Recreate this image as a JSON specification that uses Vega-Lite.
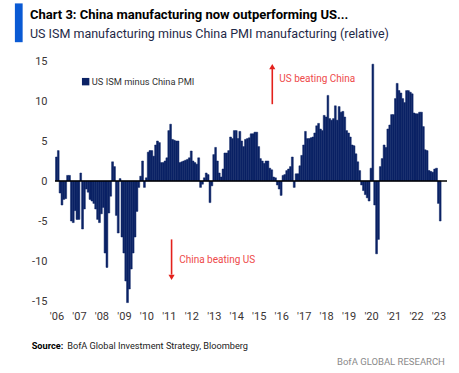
{
  "$schema": "https://vega.github.io/schema/vega-lite/v6.json",
  "width": 392,
  "height": 240,
  "autosize": {"type": "none"},
  "padding": {"left": 55, "top": 61, "right": 12, "bottom": 72},
  "background": "white",
  "config": {
    "view": {"stroke": null},
    "font": "Roboto, sans-serif",
    "axis": {"labelOverlap": false}
  },
  "data": {
    "values": [
      {"date": "2006-01-01", "value": 3.0}, {"date": "2006-02-01", "value": 3.8}, {"date": "2006-03-01", "value": -1.5}, {"date": "2006-04-01", "value": -3.0}, {"date": "2006-05-01", "value": -2.3}, {"date": "2006-06-01", "value": -2.2}, {"date": "2006-07-01", "value": 0.7}, {"date": "2006-08-01", "value": 0.7}, {"date": "2006-09-01", "value": -5.0}, {"date": "2006-10-01", "value": -5.2}, {"date": "2006-11-01", "value": -3.7}, {"date": "2006-12-01", "value": -4.8},
      {"date": "2007-01-01", "value": -4.8}, {"date": "2007-02-01", "value": 1.0}, {"date": "2007-03-01", "value": -6.0}, {"date": "2007-04-01", "value": -3.5}, {"date": "2007-05-01", "value": -1.0}, {"date": "2007-06-01", "value": -1.4}, {"date": "2007-07-01", "value": -2.3}, {"date": "2007-08-01", "value": -2.5}, {"date": "2007-09-01", "value": -2.8}, {"date": "2007-10-01", "value": -3.5}, {"date": "2007-11-01", "value": -4.8}, {"date": "2007-12-01", "value": -5.2},
      {"date": "2008-01-01", "value": -4.1}, {"date": "2008-02-01", "value": -3.3}, {"date": "2008-03-01", "value": -9.0}, {"date": "2008-04-01", "value": -10.8}, {"date": "2008-05-01", "value": -4.0}, {"date": "2008-06-01", "value": -1.9}, {"date": "2008-07-01", "value": 2.4}, {"date": "2008-08-01", "value": 1.8}, {"date": "2008-09-01", "value": -4.3}, {"date": "2008-10-01", "value": -6.5}, {"date": "2008-11-01", "value": 0.3}, {"date": "2008-12-01", "value": -7.0},
      {"date": "2009-01-01", "value": -9.0}, {"date": "2009-02-01", "value": -12.5}, {"date": "2009-03-01", "value": -15.2}, {"date": "2009-04-01", "value": -13.5}, {"date": "2009-05-01", "value": -11.0}, {"date": "2009-06-01", "value": -9.0}, {"date": "2009-07-01", "value": -7.0}, {"date": "2009-08-01", "value": -3.8}, {"date": "2009-09-01", "value": -0.8}, {"date": "2009-10-01", "value": 0.6}, {"date": "2009-11-01", "value": 2.5}, {"date": "2009-12-01", "value": -0.8},
      {"date": "2010-01-01", "value": 0.4}, {"date": "2010-02-01", "value": 3.6}, {"date": "2010-03-01", "value": 3.8}, {"date": "2010-04-01", "value": 3.8}, {"date": "2010-05-01", "value": 3.1}, {"date": "2010-06-01", "value": 4.5}, {"date": "2010-07-01", "value": 5.0}, {"date": "2010-08-01", "value": 4.8}, {"date": "2010-09-01", "value": 2.3}, {"date": "2010-10-01", "value": 2.3}, {"date": "2010-11-01", "value": 2.5}, {"date": "2010-12-01", "value": 2.9},
      {"date": "2011-01-01", "value": 6.3}, {"date": "2011-02-01", "value": 7.1}, {"date": "2011-03-01", "value": 5.2}, {"date": "2011-04-01", "value": 5.1}, {"date": "2011-05-01", "value": 5.0}, {"date": "2011-06-01", "value": 5.0}, {"date": "2011-07-01", "value": 2.3}, {"date": "2011-08-01", "value": 2.4}, {"date": "2011-09-01", "value": 2.5}, {"date": "2011-10-01", "value": 2.6}, {"date": "2011-11-01", "value": 2.7}, {"date": "2011-12-01", "value": 2.9},
      {"date": "2012-01-01", "value": 3.75}, {"date": "2012-02-01", "value": 2.5}, {"date": "2012-03-01", "value": 2.3}, {"date": "2012-04-01", "value": 2.1}, {"date": "2012-05-01", "value": 2.9}, {"date": "2012-06-01", "value": -0.8}, {"date": "2012-07-01", "value": -0.4}, {"date": "2012-08-01", "value": 0.4}, {"date": "2012-09-01", "value": 1.0}, {"date": "2012-10-01", "value": 0.8}, {"date": "2012-11-01", "value": -2.7}, {"date": "2012-12-01", "value": -0.6},
      {"date": "2013-01-01", "value": 3.3}, {"date": "2013-02-01", "value": 4.2}, {"date": "2013-03-01", "value": 2.5}, {"date": "2013-04-01", "value": 1.0}, {"date": "2013-05-01", "value": 0.5}, {"date": "2013-06-01", "value": 1.5}, {"date": "2013-07-01", "value": 3.5}, {"date": "2013-08-01", "value": 3.5}, {"date": "2013-09-01", "value": 3.8}, {"date": "2013-10-01", "value": 5.5}, {"date": "2013-11-01", "value": 5.3}, {"date": "2013-12-01", "value": 6.3},
      {"date": "2014-01-01", "value": 6.3}, {"date": "2014-02-01", "value": 5.3}, {"date": "2014-03-01", "value": 6.2}, {"date": "2014-04-01", "value": 5.0}, {"date": "2014-05-01", "value": 4.3}, {"date": "2014-06-01", "value": 5.2}, {"date": "2014-07-01", "value": 5.3}, {"date": "2014-08-01", "value": 5.4}, {"date": "2014-09-01", "value": 5.9}, {"date": "2014-10-01", "value": 5.9}, {"date": "2014-11-01", "value": 6.1}, {"date": "2014-12-01", "value": 6.1},
      {"date": "2015-01-01", "value": 4.3}, {"date": "2015-02-01", "value": 2.8}, {"date": "2015-03-01", "value": 2.5}, {"date": "2015-04-01", "value": 2.2}, {"date": "2015-05-01", "value": 2.5}, {"date": "2015-06-01", "value": 2.5}, {"date": "2015-07-01", "value": 1.6}, {"date": "2015-08-01", "value": 1.4}, {"date": "2015-09-01", "value": 0.5}, {"date": "2015-10-01", "value": 0.4}, {"date": "2015-11-01", "value": -0.5}, {"date": "2015-12-01", "value": -1.0},
      {"date": "2016-01-01", "value": -1.8}, {"date": "2016-02-01", "value": 0.7}, {"date": "2016-03-01", "value": 0.8}, {"date": "2016-04-01", "value": 1.3}, {"date": "2016-05-01", "value": 1.5}, {"date": "2016-06-01", "value": 1.8}, {"date": "2016-07-01", "value": 3.0}, {"date": "2016-08-01", "value": -0.8}, {"date": "2016-09-01", "value": 0.9}, {"date": "2016-10-01", "value": 0.9}, {"date": "2016-11-01", "value": 1.9}, {"date": "2016-12-01", "value": 3.2},
      {"date": "2017-01-01", "value": 4.5}, {"date": "2017-02-01", "value": 6.2}, {"date": "2017-03-01", "value": 5.3}, {"date": "2017-04-01", "value": 5.3}, {"date": "2017-05-01", "value": 5.4}, {"date": "2017-06-01", "value": 5.5}, {"date": "2017-07-01", "value": 6.0}, {"date": "2017-08-01", "value": 6.9}, {"date": "2017-09-01", "value": 7.2}, {"date": "2017-10-01", "value": 6.5}, {"date": "2017-11-01", "value": 6.3}, {"date": "2017-12-01", "value": 8.2},
      {"date": "2018-01-01", "value": 8.0}, {"date": "2018-02-01", "value": 10.7}, {"date": "2018-03-01", "value": 7.8}, {"date": "2018-04-01", "value": 7.6}, {"date": "2018-05-01", "value": 7.8}, {"date": "2018-06-01", "value": 9.4}, {"date": "2018-07-01", "value": 7.6}, {"date": "2018-08-01", "value": 9.3}, {"date": "2018-09-01", "value": 8.6}, {"date": "2018-10-01", "value": 8.7}, {"date": "2018-11-01", "value": 8.0}, {"date": "2018-12-01", "value": 6.3},
      {"date": "2019-01-01", "value": 6.0}, {"date": "2019-02-01", "value": 5.5}, {"date": "2019-03-01", "value": 4.5}, {"date": "2019-04-01", "value": 4.4}, {"date": "2019-05-01", "value": 3.4}, {"date": "2019-06-01", "value": 2.4}, {"date": "2019-07-01", "value": 1.3}, {"date": "2019-08-01", "value": -0.5}, {"date": "2019-09-01", "value": -1.2}, {"date": "2019-10-01", "value": -1.7}, {"date": "2019-11-01", "value": -2.1}, {"date": "2019-12-01", "value": -2.5},
      {"date": "2020-01-01", "value": 1.6}, {"date": "2020-02-01", "value": 14.6}, {"date": "2020-03-01", "value": -3.0}, {"date": "2020-04-01", "value": -9.1}, {"date": "2020-05-01", "value": -7.3}, {"date": "2020-06-01", "value": 1.8}, {"date": "2020-07-01", "value": 2.8}, {"date": "2020-08-01", "value": 4.5}, {"date": "2020-09-01", "value": 4.2}, {"date": "2020-10-01", "value": 6.5}, {"date": "2020-11-01", "value": 7.0}, {"date": "2020-12-01", "value": 8.3},
      {"date": "2021-01-01", "value": 8.3}, {"date": "2021-02-01", "value": 10.3}, {"date": "2021-03-01", "value": 12.2}, {"date": "2021-04-01", "value": 11.3}, {"date": "2021-05-01", "value": 11.0}, {"date": "2021-06-01", "value": 10.3}, {"date": "2021-07-01", "value": 9.8}, {"date": "2021-08-01", "value": 11.3}, {"date": "2021-09-01", "value": 11.3}, {"date": "2021-10-01", "value": 11.1}, {"date": "2021-11-01", "value": 10.9}, {"date": "2021-12-01", "value": 8.5},
      {"date": "2022-01-01", "value": 8.4}, {"date": "2022-02-01", "value": 8.4}, {"date": "2022-03-01", "value": 8.6}, {"date": "2022-04-01", "value": 8.6}, {"date": "2022-05-01", "value": 6.8}, {"date": "2022-06-01", "value": 3.9}, {"date": "2022-07-01", "value": 3.8}, {"date": "2022-08-01", "value": 1.3}, {"date": "2022-09-01", "value": 1.2}, {"date": "2022-10-01", "value": 1.1}, {"date": "2022-11-01", "value": 1.5}, {"date": "2022-12-01", "value": 1.6},
      {"date": "2023-01-01", "value": -2.8}, {"date": "2023-02-01", "value": -5.0}
    ],
    "format": {"parse": {"date": "date:'%Y-%m-%d'"}}
  },
  "layer": [
    {
      "mark": {"type": "bar", "clip": false, "binSpacing": 0, "width": {"band": 1}, "stroke": "#0b2265", "strokeWidth": 0.5},
      "encoding": {
        "x": {
          "field": "date", "timeUnit": "yearmonth", "type": "temporal", "title": null,
          "scale": {"domain": [{"year": 2006, "month": 1, "date": 1}, {"year": 2023, "month": 6, "date": 13}]},
          "axis": {
            "tickCount": {"interval": "year", "step": 1},
            "labelExpr": "\"'\" + timeFormat(datum.value, '%y')",
            "domain": false, "ticks": false, "tickSize": 0, "grid": false,
            "labelPadding": 9, "labelOffset": 1.5, "labelFlush": false, "labelOverlap": false,
            "labelFontSize": 11, "labelColor": "#3b3535"
          }
        },
        "y": {
          "field": "value", "type": "quantitative", "title": null,
          "scale": {"domain": [-15, 15], "nice": false, "zero": false},
          "axis": {
            "values": [-15, -10, -5, 0, 5, 10, 15],
            "tickCount": 20,
            "labelExpr": "'' + datum.value",
            "domain": false, "ticks": false, "tickSize": 0, "grid": false, "labelOverlap": false,
            "labelPadding": 8, "labelFontSize": 11, "labelColor": "#3b3535"
          }
        },
        "color": {
          "datum": "US ISM minus China PMI",
          "scale": {"range": ["#0b2265"]},
          "legend": {
            "title": null, "orient": "none", "legendX": 26, "legendY": 16,
            "symbolType": "square", "symbolSize": 55, "symbolStrokeWidth": 0,
            "labelFontSize": 9.3, "labelColor": "#333333", "labelOffset": 1.5, "padding": 0
          }
        }
      }
    },
    {
      "data": {"values": [{}]},
      "mark": {"type": "rule", "color": "#000000", "strokeWidth": 1.5},
      "encoding": {"y": {"datum": 0}}
    },
    {
      "data": {"values": [{}]},
      "mark": {"type": "rule", "color": "#e3211c", "strokeWidth": 1.6},
      "encoding": {
        "x": {"datum": {"year": 2015, "month": 9, "date": 3}, "type": "temporal"},
        "y": {"datum": 9.6},
        "y2": {"datum": 14.0}
      }
    },
    {
      "data": {"values": [{}]},
      "mark": {"type": "point", "shape": "triangle-up", "filled": true, "color": "#e3211c", "size": 38, "opacity": 1},
      "encoding": {
        "x": {"datum": {"year": 2015, "month": 9, "date": 3}, "type": "temporal"},
        "y": {"datum": 14.3}
      }
    },
    {
      "data": {"values": [{}]},
      "mark": {"type": "rule", "color": "#e3211c", "strokeWidth": 1.6},
      "encoding": {
        "x": {"datum": {"year": 2011, "month": 3, "date": 11}, "type": "temporal"},
        "y": {"datum": -7.3},
        "y2": {"datum": -11.7}
      }
    },
    {
      "data": {"values": [{}]},
      "mark": {"type": "point", "shape": "triangle-down", "filled": true, "color": "#e3211c", "size": 38, "opacity": 1},
      "encoding": {
        "x": {"datum": {"year": 2011, "month": 3, "date": 11}, "type": "temporal"},
        "y": {"datum": -12.05}
      }
    },
    {
      "data": {"values": [{}]},
      "mark": {"type": "text", "text": "US beating China", "align": "left", "baseline": "middle", "fontSize": 10, "color": "#ee4a4a"},
      "encoding": {
        "x": {"datum": {"year": 2015, "month": 12, "date": 25}, "type": "temporal"},
        "y": {"datum": 12.7}
      }
    },
    {
      "data": {"values": [{}]},
      "mark": {"type": "text", "text": "China beating US", "align": "left", "baseline": "middle", "fontSize": 10, "color": "#ee4a4a"},
      "encoding": {
        "x": {"datum": {"year": 2011, "month": 7, "date": 13}, "type": "temporal"},
        "y": {"datum": -9.9}
      }
    },
    {
      "data": {"values": [{}]},
      "mark": {"type": "rect", "color": "#0a5ad4"},
      "encoding": {
        "x": {"datum": {"year": 2004, "month": 3, "date": 20}, "type": "temporal"},
        "x2": {"datum": {"year": 2004, "month": 7, "date": 24}},
        "y": {"datum": 22.2},
        "y2": {"datum": 17.35}
      }
    },
    {
      "data": {"values": [{}]},
      "mark": {"type": "text", "text": "Chart 3: China manufacturing now outperforming US...", "align": "left", "baseline": "alphabetic", "fontSize": 13, "fontWeight": "bold", "color": "#000000"},
      "encoding": {
        "x": {"datum": {"year": 2004, "month": 11, "date": 20}, "type": "temporal"},
        "y": {"datum": 20.2}
      }
    },
    {
      "data": {"values": [{}]},
      "mark": {"type": "text", "text": "US ISM manufacturing minus China PMI manufacturing (relative)", "align": "left", "baseline": "alphabetic", "fontSize": 12.5, "color": "#1f2a48"},
      "encoding": {
        "x": {"datum": {"year": 2004, "month": 11, "date": 20}, "type": "temporal"},
        "y": {"datum": 17.9}
      }
    },
    {
      "data": {"values": [{}]},
      "mark": {"type": "text", "text": "Source:", "align": "left", "baseline": "alphabetic", "fontSize": 9.2, "fontWeight": "bold", "color": "#000000"},
      "encoding": {
        "x": {"datum": {"year": 2004, "month": 12, "date": 18}, "type": "temporal"},
        "y": {"datum": -21.0}
      }
    },
    {
      "data": {"values": [{}]},
      "mark": {"type": "text", "text": "BofA Global Investment Strategy, Bloomberg", "align": "left", "baseline": "alphabetic", "fontSize": 9.2, "color": "#222222"},
      "encoding": {
        "x": {"datum": {"year": 2006, "month": 7, "date": 18}, "type": "temporal"},
        "y": {"datum": -21.0}
      }
    },
    {
      "data": {"values": [{}]},
      "mark": {"type": "text", "text": "BofA GLOBAL RESEARCH", "align": "right", "baseline": "alphabetic", "fontSize": 9.5, "color": "#8a8a8a"},
      "encoding": {
        "x": {"datum": {"year": 2023, "month": 5, "date": 10}, "type": "temporal"},
        "y": {"datum": -23.0}
      }
    }
  ]
}
